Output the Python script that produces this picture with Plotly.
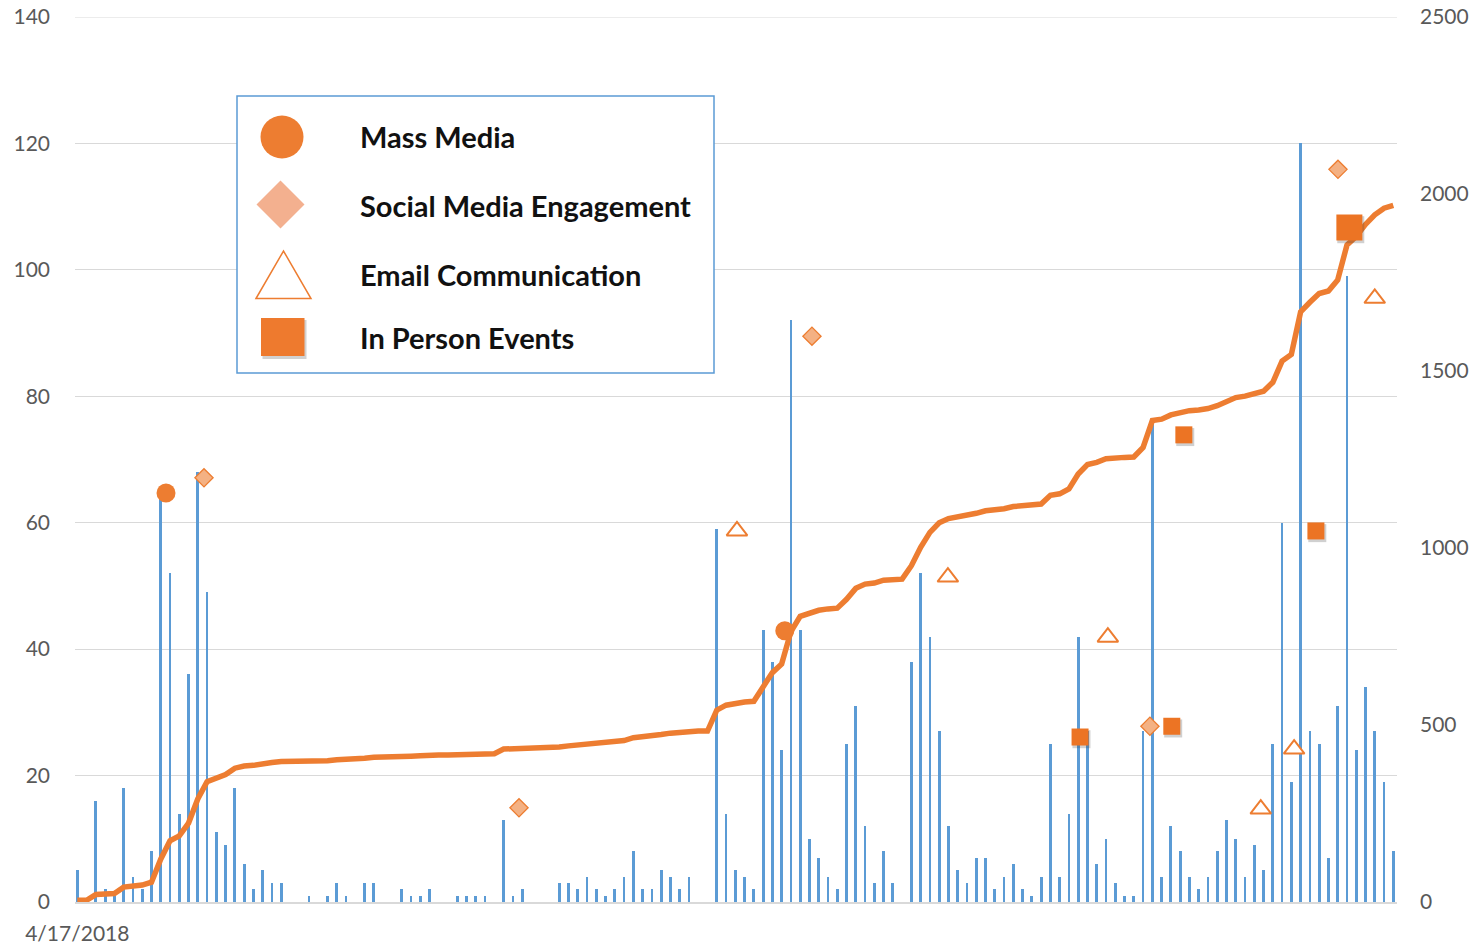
import plotly.graph_objects as go
import numpy as np

# ---------------- data ----------------
START_LABEL = "4/17/2018"
# daily counts (left axis), day 0 = 4/17/2018
daily_counts = [
    5, 0, 16, 2, 1, 18, 4, 2, 8, 65,
    52, 14, 36, 68, 49, 11, 9, 18, 6, 2,
    5, 3, 3, 0, 0, 1, 0, 1, 3, 1,
    0, 3, 3, 0, 0, 2, 1, 1, 2, 0,
    0, 1, 1, 1, 1, 0, 13, 1, 2, 0,
    0, 0, 3, 3, 2, 4, 2, 1, 2, 4,
    8, 2, 2, 5, 4, 2, 4, 0, 0, 59,
    14, 5, 4, 2, 43, 38, 24, 92, 43, 10,
    7, 4, 2, 25, 31, 12, 3, 8, 3, 0,
    38, 52, 42, 27, 12, 5, 3, 7, 7, 2,
    4, 6, 2, 1, 4, 25, 4, 14, 42, 27,
    6, 10, 3, 1, 1, 27, 76, 4, 12, 8,
    4, 2, 4, 8, 13, 10, 4, 9, 5, 25,
    60, 19, 120, 27, 25, 7, 31, 99, 24, 34,
    27, 19, 8,
]
days = list(range(len(daily_counts)))
cumulative_total = np.cumsum(daily_counts)  # running total (right axis)

# event markers: (day offset, left-axis value)
mass_media_day = [9.57, 76.34]
mass_media_val = [64.7, 42.9]
social_day = [13.67, 47.66, 79.27, 115.74, 136.03]
social_val = [67.1, 14.9, 89.5, 27.8, 115.9]
email_day = [71.18, 93.94, 111.2, 127.7, 131.3, 140.0]
email_val = [58.7, 51.4, 41.9, 14.7, 24.2, 95.5]
inperson_day = [108.2, 118.1, 119.4, 133.65, 137.26]
inperson_val = [26.1, 27.8, 73.9, 58.7, 106.7]
inperson_size = [17, 17, 17, 17, 26]

left_ticks = [0, 20, 40, 60, 80, 100, 120, 140]
right_ticks = [0, 500, 1000, 1500, 2000, 2500]
legend_labels = ["Mass Media", "Social Media Engagement", "Email Communication", "In Person Events"]

# ---------------- style ----------------
ORANGE = "#ED7D31"
BLUE = "#5B9BD5"
LIGHT = "#F4B183"
GRID = "#D9D9D9"
TXT = "#595959"
FONT = "Lato"

W, H = 1478, 949
# plot area in page pixels
PL, PR, PT, PB = 75, 1397, 17, 902
YMAX = 140
Y2MAX = 2500

fig = go.Figure()

fig.add_trace(go.Bar(x=days, y=daily_counts, width=0.3, marker=dict(color=BLUE, line=dict(width=0)),
                     yaxis="y", showlegend=False))
fig.add_trace(go.Scatter(x=days, y=cumulative_total, mode="lines", yaxis="y2",
                         line=dict(color=ORANGE, width=5.5), showlegend=False))

fig.add_trace(go.Scatter(x=mass_media_day, y=mass_media_val, mode="markers", yaxis="y3",
                         marker=dict(symbol="circle", size=19, color=ORANGE, line=dict(width=0), opacity=1),
                         showlegend=False))
fig.add_trace(go.Scatter(x=social_day, y=social_val, mode="markers", yaxis="y3",
                         marker=dict(symbol="diamond", size=14, color=LIGHT, line=dict(width=1.3, color=ORANGE)),
                         showlegend=False))
fig.add_trace(go.Scatter(x=email_day, y=email_val, mode="markers", yaxis="y3",
                         marker=dict(symbol="triangle-up", size=18, color="white", line=dict(width=2, color=ORANGE)),
                         showlegend=False))
# shadow for in-person squares
fig.add_trace(go.Scatter(x=[d + 0.15 for d in inperson_day], y=[v - 0.35 for v in inperson_val], mode="markers",
                         yaxis="y3", hoverinfo="skip",
                         marker=dict(symbol="square", size=[s + 1 for s in inperson_size],
                                     color="rgba(60,60,60,0.35)", line=dict(width=0)),
                         showlegend=False))
fig.add_trace(go.Scatter(x=inperson_day, y=inperson_val, mode="markers", yaxis="y3",
                         marker=dict(symbol="square", size=inperson_size, color="#EC7424",
                                     line=dict(width=0), opacity=1),
                         showlegend=False))

# ---------------- custom legend ----------------
def px(x):
    return (x - PL) / (PR - PL)

def py(y):
    return (PB - y) / (PB - PT)

shapes = []
# top gridline (plotly skips gridlines on the plot edge)
shapes.append(dict(type="line", xref="paper", yref="y", x0=0, x1=1, y0=YMAX, y1=YMAX,
                   line=dict(color=GRID, width=1), layer="below"))
shapes.append(dict(type="rect", xref="paper", yref="paper", x0=px(237), x1=px(714), y0=py(373), y1=py(96),
                   line=dict(color=BLUE, width=1.5), fillcolor="white", layer="above"))
shapes.append(dict(type="circle", xref="paper", yref="paper", x0=px(260.5), x1=px(303.5), y0=py(158.5), y1=py(115.5),
                   line=dict(width=0), fillcolor=ORANGE, layer="above"))
dcx, dcy, dr = 280.5, 204.5, 24
shapes.append(dict(type="path", xref="paper", yref="paper",
                   path=f"M {px(dcx-dr)},{py(dcy)} L {px(dcx)},{py(dcy-dr)} L {px(dcx+dr)},{py(dcy)} L {px(dcx)},{py(dcy+dr)} Z",
                   line=dict(width=0), fillcolor="#F3B08F", layer="above"))
shapes.append(dict(type="path", xref="paper", yref="paper",
                   path=f"M {px(256)},{py(298.5)} L {px(283.5)},{py(251)} L {px(311)},{py(298.5)} Z",
                   line=dict(width=1.5, color=ORANGE), fillcolor="white", layer="above"))
shapes.append(dict(type="rect", xref="paper", yref="paper", x0=px(262.5), x1=px(306.5), y0=py(359), y1=py(320),
                   line=dict(width=0), fillcolor="rgba(0,0,0,0.18)", layer="above"))
shapes.append(dict(type="rect", xref="paper", yref="paper", x0=px(261), x1=px(304.5), y0=py(356), y1=py(318),
                   line=dict(width=0), fillcolor="#EE7A2E", layer="above"))

annotations = []
for lab, yc in zip(legend_labels, [137, 205, 275, 337]):
    annotations.append(dict(text=f"<b>{lab}</b>", xref="paper", yref="paper", x=px(358), y=py(yc),
                            xanchor="left", yanchor="middle", showarrow=False,
                            font=dict(family=FONT, size=29, color="#111111")))

fig.update_layout(
    width=W, height=H,
    margin=dict(l=PL, r=W - PR, t=PT, b=H - PB, autoexpand=False),
    paper_bgcolor="white", plot_bgcolor="white",
    font=dict(family=FONT, color=TXT, size=21),
    bargap=0,
    showlegend=False,
    xaxis=dict(range=[-0.25, 142.4], tickvals=[0], ticktext=[START_LABEL], showgrid=False,
               zeroline=False, showline=True, linecolor=GRID, linewidth=1.5, ticks="",
               ticklabelstandoff=12, automargin=False, ticklabeloverflow="allow",
               tickfont=dict(size=21, color=TXT)),
    yaxis=dict(range=[0, YMAX], tickvals=left_ticks, showgrid=True, gridcolor=GRID, gridwidth=1,
               zeroline=False, showline=False, ticks="", ticklabelstandoff=24, automargin=False,
               ticklabeloverflow="allow", tickfont=dict(size=21, color=TXT)),
    yaxis2=dict(range=[0, Y2MAX], tickvals=right_ticks, overlaying="y", side="right", showgrid=False,
                zeroline=False, showline=False, ticks="", ticklabelstandoff=22, automargin=False,
                ticklabeloverflow="allow", tickfont=dict(size=21, color=TXT)),
    yaxis3=dict(range=[0, YMAX], overlaying="y", visible=False),
    shapes=shapes,
    annotations=annotations,
)

fig.write_html("out.html", config={"displayModeBar": False},
               post_script="document.body.style.margin='0';document.body.style.overflow='hidden';")
